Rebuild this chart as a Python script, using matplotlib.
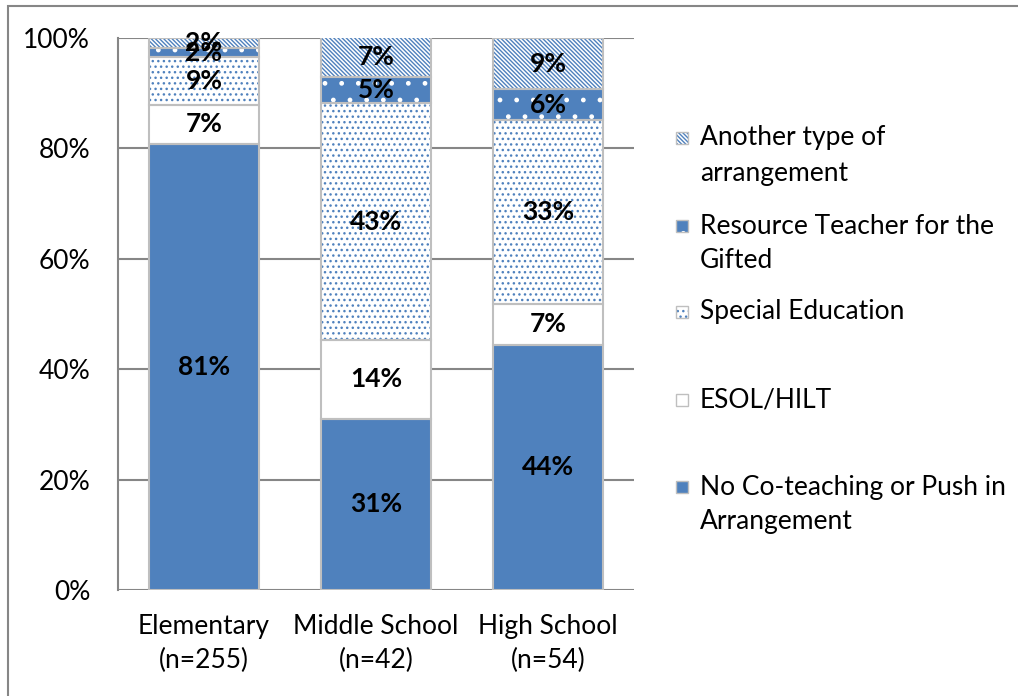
import matplotlib
matplotlib.use('Agg')
import matplotlib.pyplot as plt
from matplotlib.patches import Rectangle
import numpy as np

plt.rcParams['font.family'] = ['Lato', 'DejaVu Sans']
plt.rcParams['hatch.linewidth'] = 1.0

# school levels on the x axis
levels = ['Elementary\n(n=255)', 'Middle School\n(n=42)', 'High School\n(n=54)']

# share of respondents per arrangement (%), stacked bottom to top
no_coteach = [80.8, 31.0, 44.4]
esol = [7.1, 14.3, 7.4]
special_ed = [8.6, 42.9, 33.3]
resource_gifted = [1.6, 4.8, 5.6]
another_type = [1.9, 7.1, 9.3]

series_names = ['No Co-teaching or Push in\nArrangement', 'ESOL/HILT', 'Special Education',
                'Resource Teacher for the\nGifted', 'Another type of\narrangement']

BLUE = '#4F81BD'
EDGE = '#BFBFBF'
GRID = '#868686'
FS = 19

# (face, hatch colour, hatch) per series
styles = [
    (BLUE, BLUE, None),
    ('white', 'white', None),
    ('white', BLUE, '...'),
    (BLUE, 'white', '.'),
    ('white', BLUE, '\\' * 8),
]

fig = plt.figure(figsize=(10.18, 6.96), dpi=100)
ax = fig.add_axes([118 / 1018, 1 - 590 / 696, 516 / 1018, 552 / 696])

x = np.arange(len(levels))
width = 0.64
bottom = np.zeros(len(levels))
all_series = [no_coteach, esol, special_ed, resource_gifted, another_type]
for vals, (face, hcol, hatch) in zip(all_series, styles):
    vals = np.array(vals)
    # fill + hatch (hatch takes the edge colour), then the grey outline on top
    ax.bar(x, vals, width, bottom=bottom, color=face, edgecolor=hcol, hatch=hatch,
           linewidth=0, zorder=3)
    ax.bar(x, vals, width, bottom=bottom, fill=False, edgecolor=EDGE, linewidth=1.5, zorder=4)
    for xi, b, v in zip(x, bottom, vals):
        ax.text(xi, b + v / 2, f'{v:.0f}%', ha='center', va='center', fontsize=FS,
                fontweight='bold', color='black', zorder=5)
    bottom += vals

ax.set_xlim(-0.5, 2.5)
ax.set_ylim(0, 100)
ax.set_yticks(np.arange(0, 101, 20))
ax.set_yticklabels([f'{v}%' for v in range(0, 101, 20)])
ax.set_xticks(x)
ax.set_xticklabels(levels, linespacing=1.45)
ax.tick_params(axis='y', length=0, pad=20, labelsize=FS)
ax.tick_params(axis='x', length=0, pad=17, labelsize=FS)
ax.yaxis.grid(True, color=GRID, linewidth=1.5, zorder=1)
ax.set_axisbelow(True)
for side in ['top', 'right', 'bottom']:
    ax.spines[side].set_visible(False)
ax.spines['left'].set_color(GRID)
ax.spines['left'].set_linewidth(1.5)

# legend drawn by hand, one fixed-height slot per entry, top entry first
W, H = 1018, 696
first_line_y = [138, 226, 312, 400, 487]
for name, (face, hcol, hatch), ly in zip(series_names[::-1], styles[::-1], first_line_y):
    fig.add_artist(Rectangle((676 / W, 1 - (ly + 6) / H), 12 / W, 12 / H,
                             transform=fig.transFigure, facecolor=face, edgecolor=hcol,
                             hatch=hatch, linewidth=0))
    fig.add_artist(Rectangle((676 / W, 1 - (ly + 6) / H), 12 / W, 12 / H,
                             transform=fig.transFigure, fill=False, edgecolor=EDGE,
                             linewidth=1.0))
    for k, line in enumerate(name.split('\n')):
        fig.text(700 / W, 1 - (ly + 35 * k) / H, line, ha='left', va='center',
                 fontsize=FS, color='black')

# chart frame
fig.add_artist(Rectangle((8 / W, -0.1), 1.2, 1 - 5.5 / H + 0.1, transform=fig.transFigure,
                         fill=False, edgecolor=GRID, linewidth=1.5))

fig.savefig('out.png', dpi=100)
